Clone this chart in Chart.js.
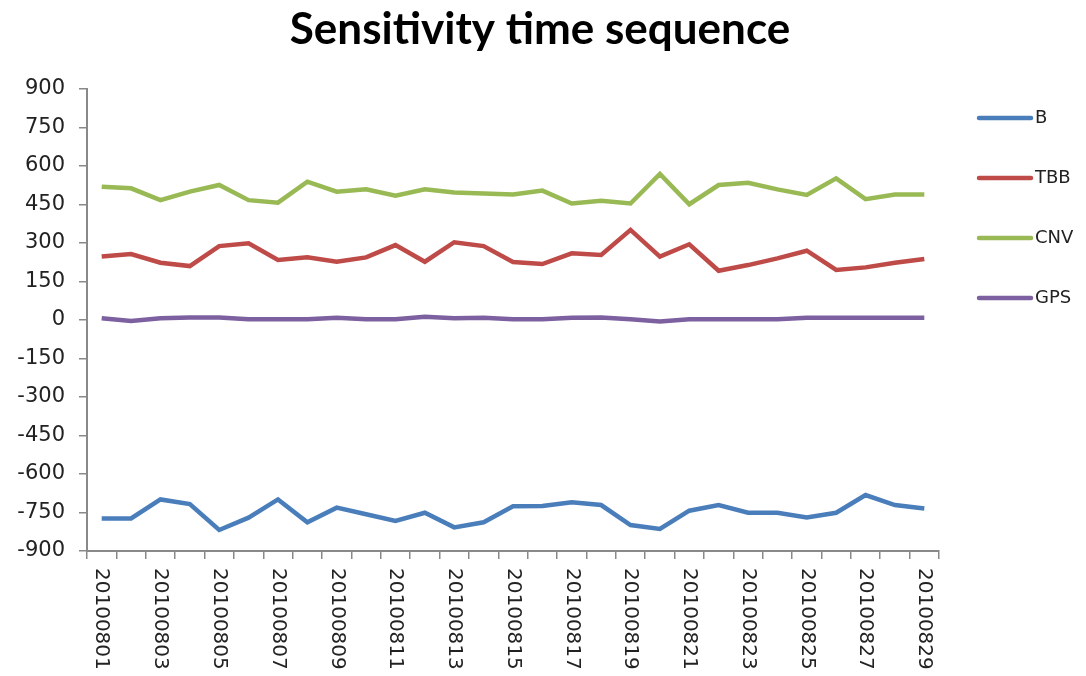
<!DOCTYPE html>
<html>
<head>
<meta charset="utf-8">
<title>Sensitivity time sequence</title>
<script src="https://cdn.jsdelivr.net/npm/chart.js@4.4.1/dist/chart.umd.min.js"></script>
<style>
  html, body { margin: 0; padding: 0; background: #fff; }
</style>
</head>
<body>
<canvas id="lineChart" width="1086" height="676"></canvas>
<script>
const dates = [
  "20100801", "20100802", "20100803", "20100804", "20100805", "20100806",
  "20100807", "20100808", "20100809", "20100810", "20100811", "20100812",
  "20100813", "20100814", "20100815", "20100816", "20100817", "20100818",
  "20100819", "20100820", "20100821", "20100822", "20100823", "20100824",
  "20100825", "20100826", "20100827", "20100828", "20100829"
];

const bValues = [-773, -773, -699, -717, -818, -770, -699, -788, -731, -757, -783, -751, -808, -788, -726,
  -725, -710, -721, -799, -814, -743, -721, -751, -751, -769, -751, -682, -721, -734];
const tbbValues = [247, 257, 223, 210, 288, 299, 234, 244, 227, 244, 292, 227, 303, 288, 226,
  218, 260, 253, 351, 247, 295, 192, 214, 240, 270, 195, 205, 223, 238];
const cnvValues = [519, 513, 467, 500, 526, 467, 457, 539, 500, 509, 484, 509, 497, 493, 489,
  504, 454, 465, 454, 569, 451, 526, 535, 509, 487, 552, 471, 489, 489];
const gpsValues = [7, -4, 7, 10, 10, 3, 3, 3, 9, 3, 3, 13, 7, 9, 3,
  3, 9, 10, 3, -6, 3, 3, 3, 3, 9, 9, 9, 9, 9];

const seriesNames = ["B", "TBB", "CNV", "GPS"];
const seriesColors = ["#4a7ebb", "#be4b48", "#98b954", "#7d60a0"];

const yMin = -900, yMax = 900, yStep = 150;
const chartTitle = "Sensitivity time sequence";

const axisColor = "#898989";
const textFont = "DejaVu Sans";

// title, rotated date labels and the legend are painted by hand
const extras = {
  id: "extras",
  afterDraw(chart) {
    const ctx = chart.ctx;
    const xs = chart.scales.x;
    ctx.save();

    ctx.fillStyle = "#000";
    ctx.font = "bold 44px Lato";
    ctx.textAlign = "center";
    ctx.textBaseline = "middle";
    ctx.fillText(chartTitle, 540, 30);

    // every other date, reading top to bottom
    ctx.font = "20px " + textFont;
    ctx.fillStyle = "#222";
    ctx.textAlign = "left";
    for (let i = 0; i < dates.length; i += 2) {
      const x = xs.getPixelForValue(i);
      ctx.save();
      ctx.translate(x, xs.top + 17);
      ctx.rotate(Math.PI / 2);
      ctx.fillText(dates[i], 0, 0);
      ctx.restore();
    }

    ctx.font = "18px " + textFont;
    ctx.lineWidth = 4.5;
    ctx.lineCap = "round";
    chart.data.datasets.forEach((ds, i) => {
      const y = 118 + 60 * i;
      ctx.strokeStyle = ds.borderColor;
      ctx.beginPath();
      ctx.moveTo(979, y);
      ctx.lineTo(1031, y);
      ctx.stroke();
      ctx.fillStyle = "#222";
      ctx.fillText(ds.label, 1035, y);
    });
    ctx.restore();
  }
};

const datasets = [bValues, tbbValues, cnvValues, gpsValues].map((vals, i) => ({
  label: seriesNames[i],
  data: vals,
  borderColor: seriesColors[i],
  backgroundColor: seriesColors[i],
  borderWidth: 4.5,
  pointRadius: 0,
  tension: 0,
  fill: false
}));

new Chart(document.getElementById("lineChart"), {
  type: "line",
  data: { labels: dates, datasets: datasets },
  options: {
    responsive: false,
    animation: false,
    layout: { padding: { top: 89, right: 147, bottom: 0, left: 0 } },
    plugins: {
      legend: { display: false },
      tooltip: { enabled: false },
      title: { display: false }
    },
    scales: {
      x: {
        offset: true,
        grid: { offset: true, drawOnChartArea: false, tickLength: 8, color: axisColor, lineWidth: 1.5 },
        border: { color: axisColor, width: 2 },
        ticks: { display: false },
        afterFit(s) { s.height = 125; }
      },
      y: {
        min: yMin,
        max: yMax,
        ticks: { stepSize: yStep, color: "#222", padding: 14, font: { family: textFont, size: 21 } },
        grid: { drawOnChartArea: false, tickLength: 8, color: axisColor, lineWidth: 1.5 },
        border: { color: axisColor, width: 2 },
        afterFit(s) { s.width = 87; }
      }
    }
  },
  plugins: [extras]
});
</script>
</body>
</html>
